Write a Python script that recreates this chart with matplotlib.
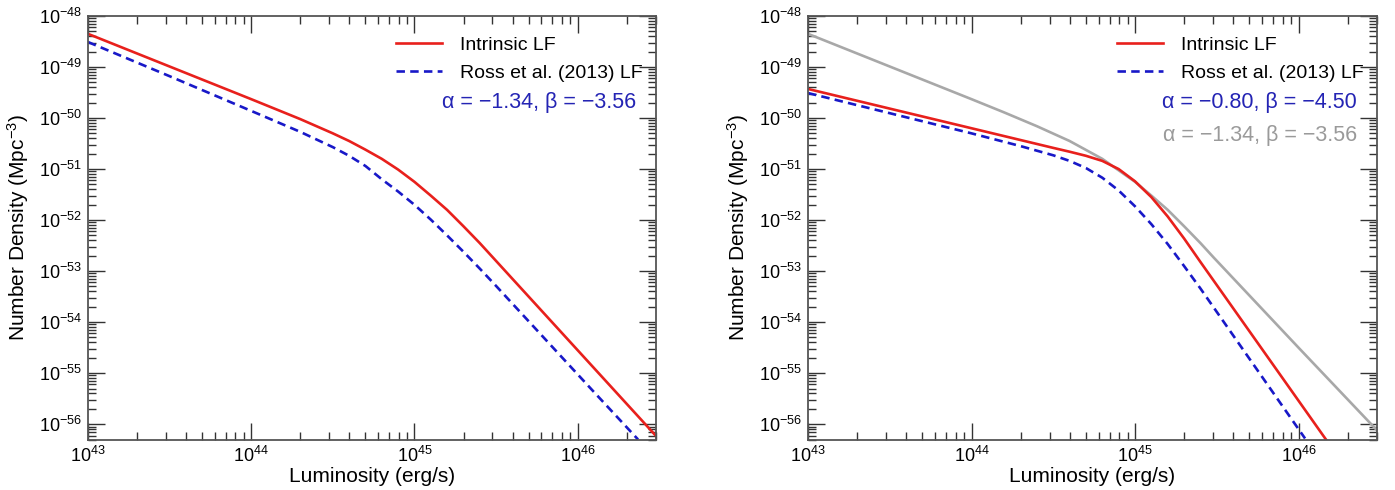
import matplotlib
matplotlib.use("Agg")
import numpy as np
import matplotlib.pyplot as plt
from matplotlib.ticker import FixedLocator, NullFormatter, LogFormatterSciNotation

plt.rcParams['font.family'] = ['Liberation Sans', 'DejaVu Sans']
plt.rcParams['mathtext.fontset'] = 'custom'
plt.rcParams['mathtext.rm'] = 'Liberation Sans'
plt.rcParams['mathtext.it'] = 'Liberation Sans:italic'

# values, log10 of luminosity (erg/s) and density (Mpc^-3)
# left panel
left_red_logL = [43.00, 43.50, 44.00, 44.10, 44.20, 44.30, 44.40, 44.50, 44.60, 44.70,
                 44.80, 44.90, 45.00, 45.10, 45.20, 45.30, 45.40, 45.48, 46.00, 46.48]
left_red_logphi = [-48.35, -48.99, -49.63, -49.76, -49.89, -50.02, -50.16, -50.30, -50.45, -50.62,
                   -50.80, -51.01, -51.25, -51.52, -51.80, -52.12, -52.45, -52.73, -54.55, -56.23]
left_blue_logL = [43.00, 43.50, 44.00, 44.30, 44.50, 44.60, 44.70, 44.80, 44.90, 45.00,
                  45.10, 45.20, 45.30, 45.40, 45.50, 45.80, 46.10, 46.37]
left_blue_logphi = [-48.51, -49.18, -49.86, -50.27, -50.57, -50.74, -50.94, -51.20, -51.44, -51.70,
                    -51.99, -52.30, -52.62, -52.95, -53.29, -54.33, -55.37, -56.30]

# right panel
right_red_logL = [43.00, 44.00, 44.50, 44.60, 44.70, 44.80, 44.90, 45.00, 45.10, 45.20,
                  45.30, 45.40, 46.17]
right_red_logphi = [-49.43, -50.20, -50.585, -50.66, -50.74, -50.84, -51.00, -51.24, -51.55, -51.93,
                    -52.36, -52.82, -56.31]
right_blue_logL = [43.00, 44.00, 44.30, 44.50, 44.60, 44.70, 44.80, 44.90, 45.00, 45.10,
                   45.20, 45.30, 45.40, 46.04]
right_blue_logphi = [-49.51, -50.30, -50.55, -50.73, -50.84, -50.98, -51.17, -51.42, -51.73, -52.08,
                     -52.47, -52.90, -53.34, -56.28]
right_gray_logL = [43.00, 43.50, 44.00, 44.20, 44.40, 44.60, 44.80, 45.00, 45.10, 45.20,
                   45.30, 45.40, 45.48, 46.00, 46.48]
right_gray_logphi = [-48.35, -48.99, -49.63, -49.89, -50.16, -50.45, -50.80, -51.25, -51.52, -51.80,
                     -52.12, -52.45, -52.73, -54.50, -56.12]

x_decades = [43, 44, 45, 46]
y_decades = [-48, -49, -50, -51, -52, -53, -54, -55, -56]

left_label = 'α = −1.34, β = −3.56'
right_labels = ['α = −0.80, β = −4.50', 'α = −1.34, β = −3.56']

RED = '#e8201c'
BLUE = '#1818c8'
GRAY = '#a8a8a8'
TXT_BLUE = '#2424b4'
TXT_GRAY = '#9a9a9a'
DASH = (0, (3.2, 2.0))

XMIN, XMAX = 1e43, 10 ** 46.48
YMIN, YMAX = 10 ** -56.31, 1e-48

fig = plt.figure(figsize=(13.95, 4.9), dpi=100)
ax1 = fig.add_axes([88 / 1395, 50 / 490, 568 / 1395, 424 / 490])
ax2 = fig.add_axes([808 / 1395, 50 / 490, 569 / 1395, 424 / 490])


def minor_ticks(decades, lo, hi):
    out = []
    for d in range(min(decades) - 1, max(decades) + 1):
        for s in range(2, 10):
            v = s * 10.0 ** d
            if lo < v < hi:
                out.append(v)
    return out


def style_axes(ax):
    ax.set_xscale('log')
    ax.set_yscale('log')
    ax.set_xlim(XMIN, XMAX)
    ax.set_ylim(YMIN, YMAX)
    ax.xaxis.set_major_locator(FixedLocator([10.0 ** d for d in x_decades]))
    ax.yaxis.set_major_locator(FixedLocator([10.0 ** d for d in y_decades]))
    ax.xaxis.set_minor_locator(FixedLocator(minor_ticks(x_decades, XMIN, XMAX)))
    ax.yaxis.set_minor_locator(FixedLocator(minor_ticks(y_decades, YMIN, YMAX)))
    ax.xaxis.set_major_formatter(LogFormatterSciNotation())
    ax.yaxis.set_major_formatter(LogFormatterSciNotation())
    ax.xaxis.set_minor_formatter(NullFormatter())
    ax.yaxis.set_minor_formatter(NullFormatter())
    ax.tick_params(which='both', direction='in', top=True, right=True,
                   labelsize=13, color='#333333', width=1.0)
    ax.tick_params(which='major', length=12, pad=4)
    ax.tick_params(which='minor', length=6)
    for sp in ax.spines.values():
        sp.set_color('#555555')
        sp.set_linewidth(1.3)
    ax.set_xlabel('Luminosity (erg/s)', fontsize=15, labelpad=1)
    ax.set_ylabel('Number Density (Mpc$^{-3}$)', fontsize=15, labelpad=6)


def p(vals):
    return [10.0 ** v for v in vals]


def add_legend(ax):
    ax.legend(loc='upper right', bbox_to_anchor=(1.0, 0.985), frameon=False, fontsize=14,
              handlelength=2.4, handletextpad=0.9, labelspacing=0.55, borderaxespad=0.3)


# left
style_axes(ax1)
ax1.plot(p(left_red_logL), p(left_red_logphi), color=RED, lw=1.9, label='Intrinsic LF')
ax1.plot(p(left_blue_logL), p(left_blue_logphi), color=BLUE, lw=1.9, ls=DASH,
         label='Ross et al. (2013) LF')
add_legend(ax1)
ax1.text(0.965, 0.795, left_label, transform=ax1.transAxes, ha='right', va='center',
         fontsize=15.5, color=TXT_BLUE)

# right
style_axes(ax2)
ax2.plot(p(right_gray_logL), p(right_gray_logphi), color=GRAY, lw=1.9)
ax2.plot(p(right_red_logL), p(right_red_logphi), color=RED, lw=1.9, label='Intrinsic LF')
ax2.plot(p(right_blue_logL), p(right_blue_logphi), color=BLUE, lw=1.9, ls=DASH,
         label='Ross et al. (2013) LF')
add_legend(ax2)
ax2.text(0.965, 0.795, right_labels[0], transform=ax2.transAxes, ha='right', va='center',
         fontsize=15.5, color=TXT_BLUE)
ax2.text(0.965, 0.717, right_labels[1], transform=ax2.transAxes, ha='right', va='center',
         fontsize=15.5, color=TXT_GRAY)

fig.savefig('out.png', dpi=100)
